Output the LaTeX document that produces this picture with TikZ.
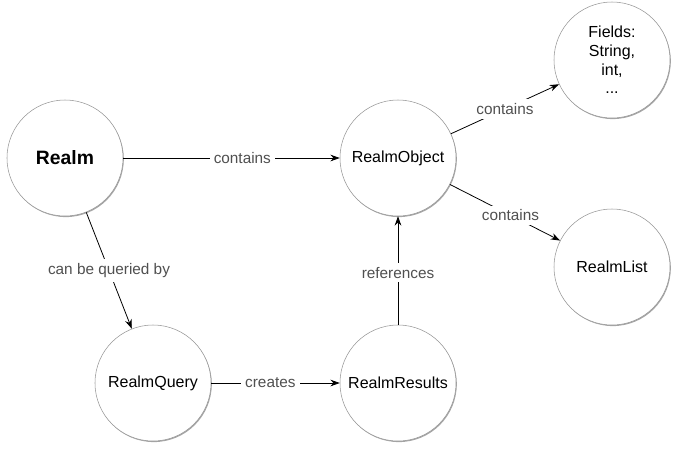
\documentclass[tikz,border=0pt]{standalone}
\usepackage{fontspec}
\setmainfont{Liberation Sans}
\usetikzlibrary{arrows.meta,shadows}
\definecolor{rimgray}{RGB}{150,150,150}
\definecolor{labgray}{RGB}{80,80,80}
\tikzset{
  entity/.style={circle, draw=rimgray, fill=white, minimum size=87pt, inner sep=0pt,
    align=center, font=\fontsize{12}{14}\selectfont,
    drop shadow={shadow xshift=0.6pt, shadow yshift=-0.8pt, opacity=0.35, fill=black}},
  rel/.style={-{Stealth[length=7pt,width=5pt]}, semithick},
  tag/.style={fill=white, text=labgray, inner sep=3pt, font=\fontsize{11.5}{13}\selectfont}
}
\begin{document}
\begin{tikzpicture}[x=0.75pt, y=-0.75pt]
  \useasboundingbox (0,0) rectangle (678,451);
  \node[entity, font=\bfseries\fontsize{14.5}{16}\selectfont] (realm) at (65,158) {Realm};
  \node[entity] (object)  at (398,158) {RealmObject};
  \node[entity] (fields)  at (612,60)  {Fields:\\String,\\int,\\...};
  \node[entity] (list)    at (612,267) {RealmList};
  \node[entity] (query)   at (153,383) {RealmQuery};
  \node[entity] (results) at (398,383) {RealmResults};

  \draw[rel] (realm) -- node[tag, pos=0.55] {contains} (object);
  \draw[rel] (realm) -- node[tag] {can be queried by} (query);
  \draw[rel] (query) -- node[tag, pos=0.46] {creates} (results);
  \draw[rel] (results) -- node[tag, pos=0.48] {references} (object);
  \draw[rel] (object) -- node[tag, pos=0.5] {contains} (fields);
  \draw[rel] (object) -- node[tag, pos=0.55] {contains} (list);
\end{tikzpicture}
\end{document}
